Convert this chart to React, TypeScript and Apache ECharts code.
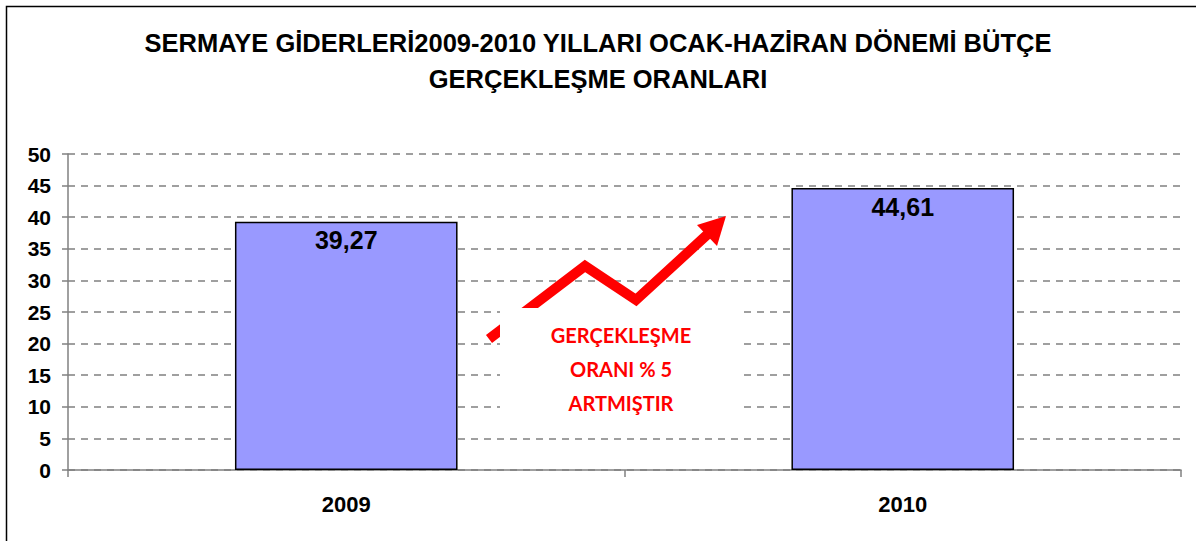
import React, { useEffect, useRef } from "react";
import * as echarts from "echarts";

const categories = ["2009", "2010"];
const ratios = [39.27, 44.61];
const titleLines = [
  "SERMAYE GİDERLERİ2009-2010 YILLARI OCAK-HAZİRAN DÖNEMİ BÜTÇE",
  "GERÇEKLEŞME ORANLARI",
];
const noteLines = ["GERÇEKLEŞME", "ORANI % 5", "ARTMIŞTIR"];

const FONT = "'Liberation Sans', Arial, sans-serif";

export default function App() {
  const ref = useRef<HTMLDivElement>(null);
  useEffect(() => {
    if (!ref.current) return;
    const chart = echarts.init(ref.current, null, { renderer: "svg" });
    chart.setOption({
      animation: false,
      backgroundColor: "#ffffff",
      title: {
        text: titleLines.join("\n"),
        left: "center",
        top: 20,
        textStyle: {
          fontFamily: FONT,
          fontWeight: "bold",
          fontSize: 25.5,
          lineHeight: 36,
          color: "#000",
        },
      },
      grid: { left: 68, right: 15, top: 154, bottom: 71, containLabel: false },
      xAxis: {
        type: "category",
        data: categories,
        boundaryGap: true,
        axisLine: { show: true, lineStyle: { color: "#808080", width: 1.5 } },
        axisTick: { show: true, length: 7, lineStyle: { color: "#808080", width: 1.5 } },
        axisLabel: {
          margin: 23,
          fontFamily: FONT,
          fontWeight: "bold",
          fontSize: 22,
          color: "#000",
        },
        splitLine: { show: false },
      },
      yAxis: {
        type: "value",
        min: 0,
        max: 50,
        interval: 5,
        axisLine: { show: true, lineStyle: { color: "#808080", width: 1.5 } },
        axisTick: { show: true, length: 6, inside: false, lineStyle: { color: "#808080", width: 1.5 } },
        axisLabel: {
          margin: 17,
          fontFamily: FONT,
          fontWeight: "bold",
          fontSize: 21,
          color: "#000",
        },
        splitLine: {
          show: true,
          lineStyle: { color: "#808080", width: 1.5, type: [7, 6] },
        },
      },
      series: [
        {
          type: "bar",
          data: ratios,
          barWidth: "40%",
          itemStyle: { color: "#9999ff", borderColor: "#000", borderWidth: 1.5 },
          label: {
            show: true,
            position: "insideTop",
            distance: 6,
            fontFamily: FONT,
            fontWeight: "bold",
            fontSize: 25,
            color: "#000",
            formatter: (p: any) => String(p.value).replace(".", ","),
          },
        },
      ],
      graphic: [
        {
          type: "rect",
          z: 200,
          silent: true,
          shape: { x: 6.5, y: 6.5, width: 1200, height: 560 },
          style: { fill: "none", stroke: "#000", lineWidth: 1.5 },
        },
        {
          type: "polyline",
          z: 100,
          silent: true,
          shape: {
            points: [
              [489, 339],
              [585, 266],
              [636, 300],
              [709, 233],
            ],
          },
          style: { stroke: "#ff0000", lineWidth: 10, fill: "none", lineJoin: "miter", lineCap: "butt" },
        },
        {
          type: "polygon",
          z: 100,
          silent: true,
          shape: {
            points: [
              [726, 216],
              [697, 225],
              [717, 246],
            ],
          },
          style: { fill: "#ff0000" },
        },
        {
          type: "rect",
          z: 110,
          silent: true,
          shape: { x: 500, y: 308, width: 243, height: 118 },
          style: { fill: "#ffffff" },
        },
        {
          type: "text",
          z: 120,
          silent: true,
          x: 621,
          y: 369,
          style: {
            text: noteLines.join("\n"),
            fontFamily: "Lato, 'Open Sans', sans-serif",
            fontWeight: "bold",
            fontSize: 20,
            lineHeight: 34,
            fill: "#ff0000",
            align: "center",
            verticalAlign: "middle",
          },
        },
      ],
    });
    return () => chart.dispose();
  }, []);
  return (
    <div
      ref={ref}
      style={{ position: "absolute", left: 0, top: 0, width: 1196, height: 541 }}
    />
  );
}
